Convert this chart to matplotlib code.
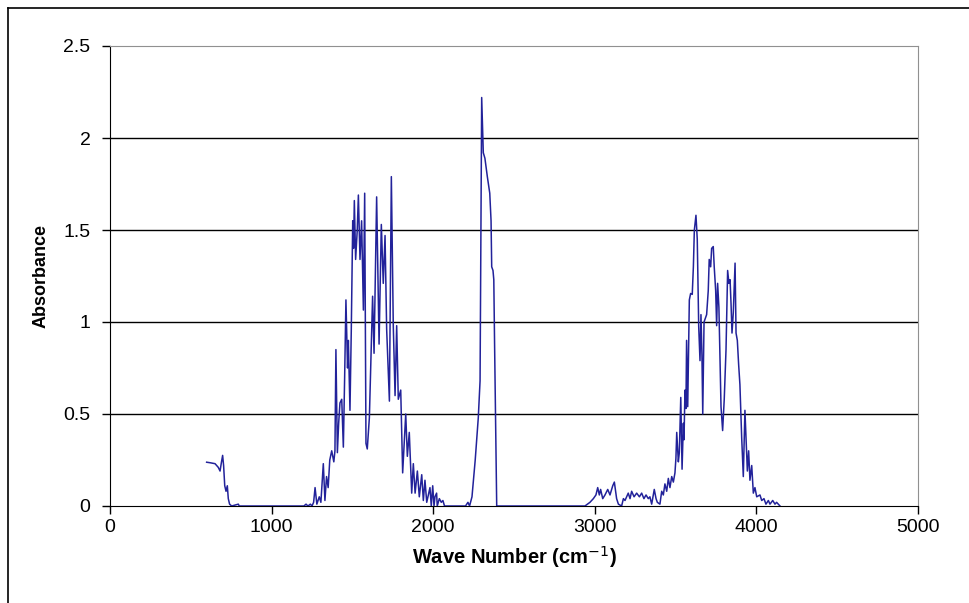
import matplotlib
matplotlib.use("Agg")
import matplotlib.pyplot as plt
from matplotlib.lines import Line2D

plt.rcParams['font.family'] = ['Liberation Sans', 'DejaVu Sans']

# spectrum: wave number (cm-1) and absorbance
wave_low = [598, 620, 650, 670, 681, 690, 697, 703, 710, 718, 726, 732, 740, 753,
            794, 800, 1000, 1200, 1213, 1225, 1240, 1250]
abs_low = [0.238, 0.235, 0.23, 0.21, 0.19, 0.24, 0.275, 0.22, 0.11, 0.08, 0.11, 0.04, 0.01, 0.0,
           0.01, 0.0, 0.0, 0.0, 0.01, 0.0, 0.01, 0.0]

wave_band1 = [1260, 1269, 1280, 1295, 1305, 1320, 1330, 1340, 1350, 1360, 1372, 1385, 1392,
              1398, 1407, 1415, 1423, 1434, 1444, 1452, 1460, 1470, 1475, 1485, 1493,
              1502, 1507, 1512, 1520, 1530, 1537, 1547, 1557, 1568, 1576, 1584, 1592,
              1605, 1625, 1634, 1650, 1665, 1679, 1691, 1702, 1712, 1729, 1741, 1753,
              1764, 1774, 1784, 1799, 1811, 1830, 1840, 1852, 1867, 1877, 1888, 1902,
              1914, 1929, 1939, 1949, 1960, 1980, 1988, 1997, 2005, 2011, 2021, 2025,
              2038, 2050, 2060, 2070]
abs_band1 = [0.02, 0.10, 0.01, 0.05, 0.02, 0.23, 0.03, 0.16, 0.10, 0.25, 0.30, 0.24, 0.30,
             0.85, 0.29, 0.45, 0.56, 0.58, 0.32, 0.70, 1.12, 0.75, 0.90, 0.52, 0.95,
             1.55, 1.40, 1.66, 1.34, 1.50, 1.69, 1.34, 1.55, 1.065, 1.70, 0.34, 0.31,
             0.48, 1.14, 0.83, 1.68, 0.88, 1.53, 1.21, 1.47, 0.96, 0.57, 1.79, 0.98,
             0.60, 0.98, 0.58, 0.63, 0.18, 0.50, 0.27, 0.40, 0.07, 0.23, 0.07, 0.19,
             0.05, 0.17, 0.03, 0.14, 0.02, 0.10, 0.0, 0.11, 0.0, 0.05, 0.07, 0.0,
             0.04, 0.02, 0.03, 0.0]

wave_co2 = [2200, 2215, 2225, 2240, 2260, 2279, 2290, 2300, 2310, 2320, 2335, 2350,
            2358, 2362, 2370, 2375, 2380, 2393]
abs_co2 = [0.0, 0.02, 0.0, 0.05, 0.25, 0.48, 0.68, 2.22, 1.92, 1.89, 1.79, 1.70,
           1.55, 1.30, 1.28, 1.23, 0.87, 0.0]

wave_band2 = [2939, 2970, 2991, 3007, 3018, 3028, 3036, 3049, 3063, 3080, 3094, 3111, 3121,
              3135, 3146, 3166, 3177, 3187, 3207, 3218, 3228, 3243, 3259, 3276, 3290,
              3304, 3317, 3331, 3341, 3352, 3368, 3379, 3387, 3403, 3414, 3424, 3434,
              3445, 3455, 3465, 3476, 3486, 3496, 3502, 3507, 3517, 3523, 3532, 3540,
              3548, 3552, 3558, 3564, 3568, 3575, 3585, 3593, 3603, 3610, 3616, 3626,
              3634, 3643, 3651, 3657, 3663, 3668, 3676, 3692, 3702, 3708, 3717, 3723,
              3733, 3739, 3748, 3754, 3760, 3768, 3775, 3781, 3791, 3801, 3812, 3822,
              3830, 3837, 3843, 3849, 3857, 3868, 3874, 3882, 3890, 3898, 3909, 3919,
              3929, 3936, 3944, 3952, 3960, 3971, 3981, 3991, 4002, 4022, 4033, 4047,
              4059, 4074, 4084, 4101, 4115, 4125, 4146]
abs_band2 = [0.0, 0.02, 0.04, 0.06, 0.10, 0.06, 0.09, 0.04, 0.06, 0.09, 0.06, 0.11, 0.13,
             0.04, 0.01, 0.0, 0.04, 0.03, 0.07, 0.04, 0.08, 0.05, 0.07, 0.05, 0.07,
             0.04, 0.06, 0.04, 0.05, 0.01, 0.09, 0.04, 0.02, 0.01, 0.08, 0.06, 0.12,
             0.08, 0.15, 0.10, 0.16, 0.13, 0.18, 0.26, 0.40, 0.24, 0.29, 0.59, 0.20,
             0.45, 0.36, 0.63, 0.53, 0.90, 0.54, 1.12, 1.155, 1.15, 1.30, 1.50, 1.58,
             1.45, 0.975, 0.79, 1.04, 0.82, 0.50, 1.00, 1.04, 1.17, 1.34, 1.30, 1.40,
             1.41, 1.30, 1.17, 0.98, 1.21, 1.08, 0.79, 0.54, 0.41, 0.58, 0.85, 1.28,
             1.21, 1.23, 1.10, 0.94, 1.05, 1.32, 0.94, 0.90, 0.77, 0.66, 0.37, 0.16,
             0.52, 0.36, 0.19, 0.30, 0.14, 0.22, 0.07, 0.10, 0.05, 0.06, 0.03, 0.04,
             0.01, 0.03, 0.01, 0.03, 0.01, 0.02, 0.0]

wave = wave_low + wave_band1 + wave_co2 + wave_band2
absorbance = abs_low + abs_band1 + abs_co2 + abs_band2

fig = plt.figure(figsize=(9.69, 6.03), dpi=100)
ax = fig.add_axes([110 / 969, 97 / 603, 808 / 969, 460 / 603])

for yv in [0.5, 1.0, 1.5, 2.0]:
    ax.axhline(yv, color='black', lw=1.0, zorder=1)

ax.plot(wave, absorbance, color='#22229a', lw=1.1, zorder=3)

ax.set_xlim(0, 5000)
ax.set_ylim(0, 2.5)
ax.set_xticks([0, 1000, 2000, 3000, 4000, 5000])
ax.set_yticks([0, 0.5, 1, 1.5, 2, 2.5])
ax.set_yticklabels(['0', '0.5', '1', '1.5', '2', '2.5'])
ax.tick_params(axis='both', direction='out', length=6, width=1, colors='black',
               labelsize=14, pad=3)
ax.tick_params(axis='y', pad=8)

ax.spines['left'].set_color('black')
ax.spines['bottom'].set_color('black')
ax.spines['top'].set_color('#909090')
ax.spines['right'].set_color('#909090')

ax.set_xlabel('Wave Number (cm$^{-1}$)', fontsize=14.5, fontweight='bold', labelpad=6)
ax.set_ylabel('Absorbance', fontsize=13, fontweight='bold', labelpad=10)

# outer chart frame (left and top edges visible)
fig.add_artist(Line2D([8 / 969, 8 / 969], [0, 1 - 8 / 603], transform=fig.transFigure,
                      color='black', lw=1.2))
fig.add_artist(Line2D([8 / 969, 1], [1 - 8 / 603, 1 - 8 / 603], transform=fig.transFigure,
                      color='black', lw=1.2))

fig.savefig('out.png', dpi=100)
